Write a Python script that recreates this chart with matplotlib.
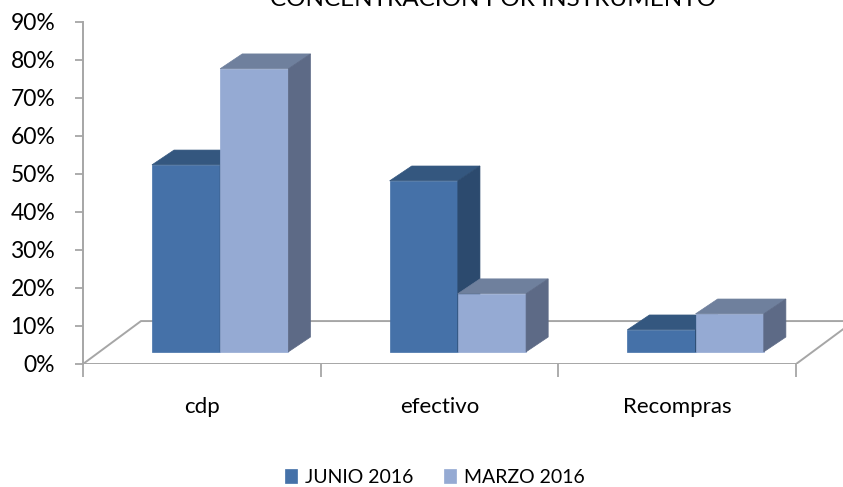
import matplotlib
matplotlib.use('Agg')
import matplotlib.pyplot as plt
from matplotlib.patches import Polygon
from matplotlib.ticker import PercentFormatter

# datos (porcentaje por instrumento)
categorias = ['cdp', 'efectivo', 'Recompras']
series = ['JUNIO 2016', 'MARZO 2016']
junio_2016 = [49.2, 45.0, 5.8]
marzo_2016 = [74.5, 15.3, 10.0]
ticks_y = [0, 10, 20, 30, 40, 50, 60, 70, 80, 90]
titulo = 'CONCENTRACIÓN POR INSTRUMENTO'

# colores: frente, tapa, lado
COL_JUNIO = ('#4571a8', '#34577f', '#2c4a6e')
COL_MARZO = ('#95aad3', '#6f809d', '#5d6a86')

ANCHO = 0.287        # ancho de cada barra (en unidades de categoria)
DX, DY = 0.093, 3.9  # profundidad de la barra (oblicua)
OY = 3.2             # el frente de la barra queda un poco atras del borde del piso
PX, PY = 0.244, 11.3  # profundidad del piso

plt.rcParams['font.family'] = ['Lato', 'DejaVu Sans']

fig = plt.figure(figsize=(8.43, 4.87), dpi=100)
ax = fig.add_axes([83 / 843, 123 / 487, 760 / 843, 342 / 487])
ax.set_xlim(0, 760 / 237.7)
ax.set_ylim(0, 90)


def barra3d(x0, h, colores, z, etiqueta=None):
    frente, tapa, lado = colores
    b = ax.bar(x0, h, width=ANCHO, bottom=OY, align='edge', color=frente,
               edgecolor=frente, linewidth=0.5, zorder=z, label=etiqueta)
    arriba = [(x0, OY + h), (x0 + ANCHO, OY + h),
              (x0 + ANCHO + DX, OY + h + DY), (x0 + DX, OY + h + DY)]
    costado = [(x0 + ANCHO, OY), (x0 + ANCHO + DX, OY + DY),
               (x0 + ANCHO + DX, OY + h + DY), (x0 + ANCHO, OY + h)]
    ax.add_patch(Polygon(arriba, closed=True, facecolor=tapa, edgecolor=tapa,
                         linewidth=0.5, zorder=z))
    ax.add_patch(Polygon(costado, closed=True, facecolor=lado, edgecolor=lado,
                         linewidth=0.5, zorder=z))
    return b


# piso del grafico 3D
n = len(categorias)
piso = [(0, 0), (n, 0), (n + PX, PY), (PX, PY)]
ax.add_patch(Polygon(piso, closed=True, fill=False, edgecolor='#a6a6a6',
                     linewidth=1.4, zorder=1))

handles = []
for i in range(n):
    x_j = i + 0.29
    x_m = x_j + ANCHO
    hj = barra3d(x_j, junio_2016[i], COL_JUNIO, 3 + 2 * i,
                 series[0] if i == 0 else None)
    hm = barra3d(x_m, marzo_2016[i], COL_MARZO, 4 + 2 * i,
                 series[1] if i == 0 else None)
    if i == 0:
        handles = [hj, hm]

# ejes
for s in ['top', 'right', 'bottom']:
    ax.spines[s].set_visible(False)
ax.spines['left'].set_color('#a6a6a6')
ax.spines['left'].set_linewidth(1.4)
ax.set_yticks(ticks_y)
ax.yaxis.set_major_formatter(PercentFormatter(decimals=0))
ax.tick_params(axis='y', length=6, width=1.3, color='#a6a6a6',
               labelsize=16.5, pad=14, labelcolor='black')
ax.set_xticks(range(n + 1))
ax.set_xticklabels([])
ax.tick_params(axis='x', which='major', length=9, width=1.3, color='#a6a6a6')
ax.set_xticks([i + 0.5 for i in range(n)], minor=True)
ax.set_xticklabels(categorias, minor=True)
ax.tick_params(axis='x', which='minor', length=0, pad=24, labelsize=16)

# el titulo queda cortado arriba, como en el original
fig.text(493 / 843, 1 - 6 / 487, titulo, ha='center', va='baseline',
         fontsize=17.5)

fig.legend(handles, series, loc='lower center',
           bbox_to_anchor=(0.516, 0.002), borderpad=0, borderaxespad=0,
           ncol=2, frameon=False, fontsize=14, handlelength=0.62,
           handleheight=0.72, handletextpad=0.41, columnspacing=1.6)

fig.savefig('out.png', dpi=100)
